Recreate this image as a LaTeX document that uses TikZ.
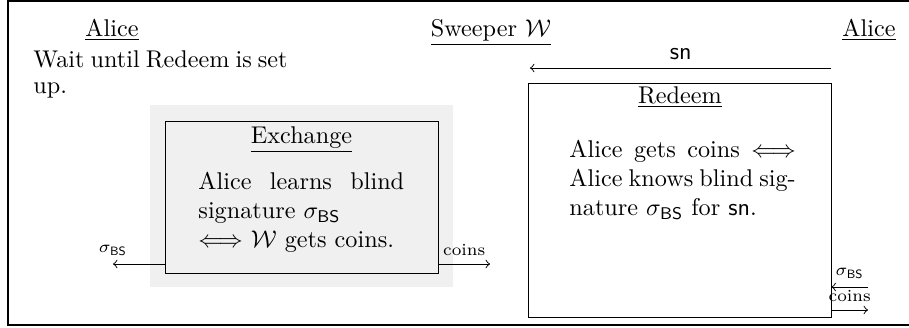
\documentclass[tikz,border=0pt]{standalone}
\usepackage{amsmath}
\usepackage{amsfonts}
\usepackage{amssymb}
\usepackage{tikz}

\tikzset{
	box/.style={draw, inner sep=0pt},
	txt/.style={inner sep=0pt, align=justify},
	lbl/.style={font=\scriptsize}
}

\begin{document}
\begin{tikzpicture}[x=0.4132pt, y=-0.4132pt]
			\useasboundingbox (0,0) rectangle (909,327);
			\draw[semithick] (8,1) rectangle (930,325);

			% parties
			\node[anchor=base] (aliceL) at (112,36) {\underline{Alice}};
			\node[anchor=base] (sweeper) at (491,36) {\underline{Sweeper $\mathcal{W}$}};
			\node[anchor=base] (aliceR) at (869,36) {\underline{Alice}};
			\node[txt, text width=105pt, anchor=north west,
				execute at begin node={\setlength{\baselineskip}{10.8pt}}] (wait) at (33,50)
				{Wait until Redeem is set up.};

			% exchange
			\fill[black!6] (150,105) rectangle (453,287);
			\node[box, minimum width=112.8pt, minimum height=62.8pt] (exch) at (301.5,197) {};
			\node[anchor=base] (exchT) at (301.5,143) {\underline{Exchange}};
			\node[txt, text width=85pt, anchor=north west] (exchX) at (198,172)
				{Alice learns blind signature $\sigma_{\mathsf{BS}}$\\
				$\Longleftrightarrow$ $\mathcal{W}$ gets coins.};

			% redeem
			\node[box, minimum width=125.2pt, minimum height=96.7pt] (redeem) at (679.5,200) {};
			\node[anchor=base] (redeemT) at (680,103) {\underline{Redeem}};
			\node[txt, text width=93.5pt, anchor=north west] (redeemX) at (569,140)
				{Alice gets coins $\Longleftrightarrow$ Alice knows blind signature $\sigma_{\mathsf{BS}}$ for $\mathsf{sn}$.};

			% messages
			\coordinate (sigL) at (113,264);
			\coordinate (coinsM) at (490,264);
			\coordinate (snL) at (530,68);
			\coordinate (sigR) at (868,287);
			\coordinate (coinsR) at (868,310);
			\draw[->] (exch.west |- sigL) -- (sigL) node[lbl, above] {$\sigma_{\mathsf{BS}}$};
			\draw[->] (exch.east |- coinsM) -- node[lbl, above] {coins} (coinsM);
			\draw[->] (redeem.east |- snL) -- node[above] {$\mathsf{sn}$} (snL);
			\draw[->] (sigR) -- node[lbl, above] {$\sigma_{\mathsf{BS}}$} (redeem.east |- sigR);
			\draw[->] (redeem.east |- coinsR) -- node[lbl, above] {coins} (coinsR);

\end{tikzpicture}
\end{document}
